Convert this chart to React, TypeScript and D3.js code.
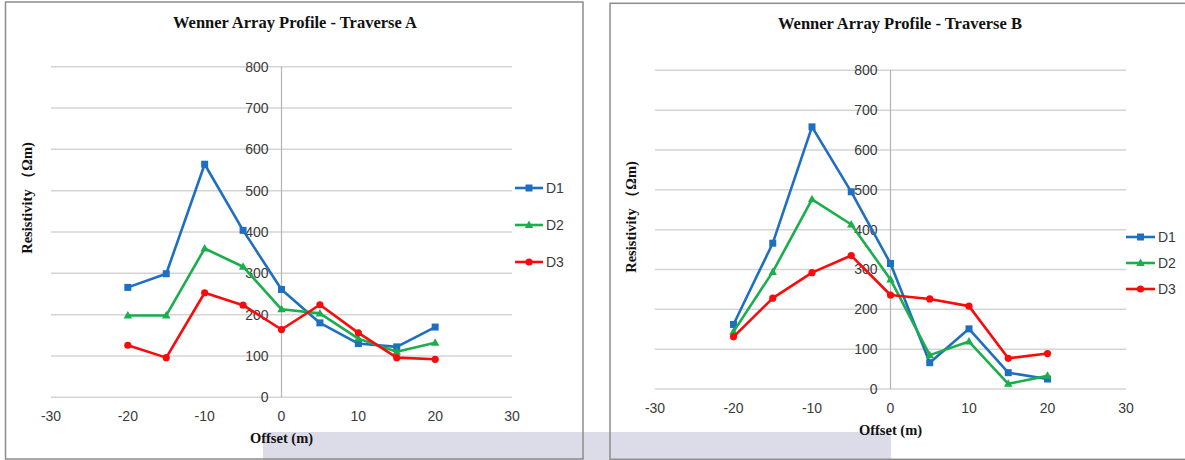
import React from "react";
import * as d3 from "d3";

const offsets = [-20, -15, -10, -5, 0, 5, 10, 15, 20];
const seriesNames = ["D1", "D2", "D3"];
const xTicks = [-30, -20, -10, 0, 10, 20, 30];
const yTicks = [0, 100, 200, 300, 400, 500, 600, 700, 800];

const aD1 = [266, 299, 564, 404, 261, 180, 130, 122, 170];
const aD2 = [198, 198, 360, 316, 213, 203, 142, 110, 132];
const aD3 = [126, 96, 253, 223, 164, 224, 156, 96, 92];

const bD1 = [162, 366, 658, 495, 315, 66, 151, 41, 25];
const bD2 = [144, 294, 476, 413, 275, 85, 119, 13, 33];
const bD3 = [131, 228, 292, 335, 236, 226, 208, 77, 89];

const colors = ["#1f6fc1", "#1aae4c", "#fa0a0a"];
const shapes = ["square", "triangle", "circle"];

type Layout = {
  x0: number; x1: number; yTop: number; yBot: number;
  titleX: number; titleY: number;
  yTitleX: number; yTitleY: number;
  xTitleY: number; xTickY: number;
  legX0: number; legX1: number; legY: number[];
};

function Marker({ shape, x, y, color }: { shape: string; x: number; y: number; color: string }) {
  if (shape === "square") return <rect x={x - 3.5} y={y - 3.5} width={7} height={7} fill={color} />;
  if (shape === "triangle")
    return <path d={`M${x},${y - 4.5}L${x + 4.2},${y + 3}L${x - 4.2},${y + 3}Z`} fill={color} />;
  return <circle cx={x} cy={y} r={3.6} fill={color} />;
}

function Chart({ title, data, L }: { title: string; data: number[][]; L: Layout }) {
  const x = d3.scaleLinear().domain([-30, 30]).range([L.x0, L.x1]);
  const y = d3.scaleLinear().domain([0, 800]).range([L.yBot, L.yTop]);
  const line = d3.line<number>().x((_, i) => x(offsets[i])).y((v) => y(v));
  const sans = "'Liberation Sans', Arial, sans-serif";
  const serif = "'Liberation Serif', 'Times New Roman', serif";
  return (
    <g>
      {yTicks.map((t) => (
        <line key={t} x1={L.x0} x2={L.x1} y1={y(t)} y2={y(t)} stroke="#d4d4d4" strokeWidth={1.5} />
      ))}
      <line x1={x(0)} x2={x(0)} y1={L.yTop} y2={L.yBot} stroke="#b4b4b4" strokeWidth={1.2} />
      {yTicks.map((t) => (
        <text key={t} x={x(0) - 13} y={y(t)} dy="0.35em" textAnchor="end" fontFamily={sans} fontSize={14} fill="#3a3a3a">
          {t}
        </text>
      ))}
      {xTicks.map((t) => (
        <text key={t} x={x(t)} y={L.xTickY} dy="0.35em" textAnchor="middle" fontFamily={sans} fontSize={14} fill="#3a3a3a">
          {t}
        </text>
      ))}
      {data.map((vals, si) => (
        <g key={si}>
          <path d={line(vals) || ""} fill="none" stroke={colors[si]} strokeWidth={2.6} strokeLinejoin="round" />
          {vals.map((v, i) => (
            <Marker key={i} shape={shapes[si]} x={x(offsets[i])} y={y(v)} color={colors[si]} />
          ))}
        </g>
      ))}
      {seriesNames.map((n, si) => (
        <g key={n}>
          <line x1={L.legX0} x2={L.legX1} y1={L.legY[si]} y2={L.legY[si]} stroke={colors[si]} strokeWidth={2.6} />
          <Marker shape={shapes[si]} x={(L.legX0 + L.legX1) / 2} y={L.legY[si]} color={colors[si]} />
          <text x={L.legX1 + 3} y={L.legY[si]} dy="0.35em" fontFamily={sans} fontSize={14} fill="#3a3a3a">
            {n}
          </text>
        </g>
      ))}
      <text x={L.titleX} y={L.titleY} dy="0.35em" textAnchor="middle" fontFamily={serif} fontWeight="bold" fontSize={16.5} fill="#111">
        {title}
      </text>
      <text x={(L.x0 + L.x1) / 2} y={L.xTitleY} dy="0.35em" textAnchor="middle" fontFamily={serif} fontWeight="bold" fontSize={14.5} fill="#111">
        Offset (m)
      </text>
      <text
        transform={`translate(${L.yTitleX},${L.yTitleY}) rotate(-90)`}
        dy="0.35em"
        textAnchor="middle"
        fontFamily={serif}
        fontWeight="bold"
        fontSize={14.5}
        fill="#111"
      >
        Resistivity （Ωm)
      </text>
    </g>
  );
}

const layoutA: Layout = {
  x0: 51, x1: 512, yTop: 66.7, yBot: 397.3,
  titleX: 295, titleY: 22,
  yTitleX: 27, yTitleY: 198,
  xTitleY: 437.5, xTickY: 416,
  legX0: 515, legX1: 543, legY: [188, 225, 262],
};

const layoutB: Layout = {
  x0: 655, x1: 1126, yTop: 70.3, yBot: 389,
  titleX: 900, titleY: 23,
  yTitleX: 631, yTitleY: 217,
  xTitleY: 430, xTickY: 408,
  legX0: 1126, legX1: 1155, legY: [237, 263, 289],
};

export default function App() {
  return (
    <svg width={1185} height={460} style={{ position: "fixed", left: 0, top: 0, background: "#fff" }}>
      <rect x={0} y={0} width={1185} height={460} fill="#fff" />
      <rect x={263} y={432} width={628} height={28} fill="#dcdce9" />
      <rect x={5.5} y={2} width={577.5} height={457} fill="none" stroke="#8c8c8c" strokeWidth={1.5} />
      <rect x={610} y={3.3} width={600} height={456} fill="none" stroke="#8c8c8c" strokeWidth={1.5} />
      <Chart title="Wenner Array Profile - Traverse A" data={[aD1, aD2, aD3]} L={layoutA} />
      <Chart title="Wenner Array Profile - Traverse B" data={[bD1, bD2, bD3]} L={layoutB} />
    </svg>
  );
}
